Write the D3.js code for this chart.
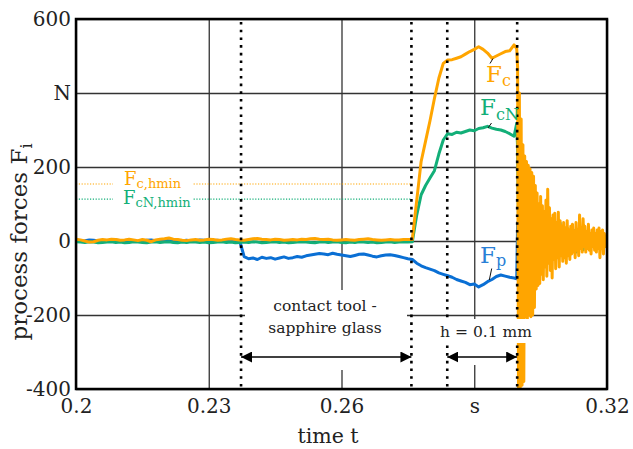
<!DOCTYPE html>
<html><head><meta charset="utf-8">
<script src="https://cdn.jsdelivr.net/npm/d3@7"></script>
<style>body{margin:0;background:#fff} svg{display:block} text{font-family:"DejaVu Serif",serif}</style>
</head><body><svg id="c" width="633" height="449"></svg>
<script>
// ---------- data ----------
const tickX = [0.2, 0.23, 0.26, 0.29, 0.32];
const tickXLabels = ["0.2", "0.23", "0.26", "s", "0.32"];
const tickY = [-400, -200, 0, 200, 400, 600];
const tickYLabels = ["-400", "-200", "0", "200", "N", "600"];

// segment 1: samples from 0.200 s, every 0.001 s (100 samples)
const seg1Start = 0.200, seg1Step = 0.001;
const fc1 = [5,3,0,-3,-2,2,4,3,5,4, 2,3,5,3,1,4,2,-2,3,5, 6,8,5,4,2,1,3,4,2,3, 5,4,2,3,5,6,4,3,
  2,4,6,7,5,4,3,5,4,2, 3,4,3,5,4,6,7,5,4,5, 3,2,3,4,3,2,4,5,6,4, 3,2,3,4,3,3,4,4,
  4,110,215,270,325,385,440,480,489,490, 494,498,505,512,518,525,518,508,494,500, 506,512,514,530];
const fcn1 = [-2,-3,-4,-2,-3,-5,-4,-3,-2,-4, -3,-5,-4,-2,-3,-4,-5,-3,-2,-4, -3,-2,-4,-5,-3,-4,-2,-3,-4,-3, -5,-4,-3,-2,-4,-3,-5,-4,
  -3,-4,-2,-3,-5,-4,-3,-2,-4,-3, -5,-4,-3,-2,-3,-4,-5,-3,-2,-4, -3,-2,-4,-5,-3,-4,-2,-3,-4,-3, -5,-4,-3,-2,-4,-3,-2,-3,
  -2,70,125,150,170,190,235,273,290,288, 294,292,296,300,298,304,306,310,305,302, 300,296,290,283];
const fp1 = [2,0,1,3,2,0,-1,1,2,3, 1,0,2,1,-1,0,2,3,1,0, 2,1,0,-1,1,2,0,1,3,2, 0,1,2,0,-1,1,2,0,
  -42,-48,-46,-50,-44,-47,-45,-49,-46,-43, -47,-45,-42,-44,-40,-38,-36,-34,-35,-37, -33,-36,-38,-40,-42,-39,-36,-35,-38,-41, -43,-40,-38,-37,-39,-42,-45,-48,
  -50,-60,-67,-72,-76,-80,-86,-90,-94,-98, -104,-108,-112,-118,-116,-124,-118,-110,-104,-96, -92,-95,-98,-100];

// last sample before the tool leaves the glass
const tBreak = 0.2996;
const fcBreak = 520, fcnBreak = 318, fpBreak = -102;

// segment 2: vibration after exit, from 0.2998 s
const seg2Start = 0.2998;
const fc2Step = 0.0002;
const fc2 = [470,-400,400,-395,330,-390,260,-380,230,-205, 215,-210,205,-200,195,-205,185,-200,175,-180,
  150,-130,130,-120,100,-115,120,-90,95,-105, 80,-70,110,-95,140,-60,90,-80,60,-100,
  70,-50,75,-75,50,-45,78,-70,55,-40, 40,-55,50,-45,35,-60,55,-40,30,-50,
  40,-35,45,-30,25,-45,50,-25,30,-40, 70,-20,35,-30,60,-15,40,-30,25,-20,
  45,-25,20,-35,30,-15,35,-25,20,-30, 30,-20,35,-45,25,-20,30,-35,20,-15, 10];
const fcn2Step = 0.0004;
const fcn2 = [250,-150,180,-120,150,-130,120,-100,90,-90, 100,-80,60,-78,70,-60,60,-55,50,-45,
  40,-50,45,-40,49,-35,30,-43,35,-30, 30,-25,28,-30,20,-20,22,-24,20,-18,
  18,-20,15,-15,12,-16,14,-12,10,-16, 5];
const fp2Step = 0.0004;
const fp2 = [50,-150,90,-300,60,-80,50,-70,40,-60, 45,-50,35,-45,30,-40,25,-35,30,-30,
  20,-25,25,-20,20,-22,15,-20,18,-15, 12,-14,10,-12,8,-10,10,-8,6,-8,
  8,-6,5,-6,4,-5,6,-4,3,-3, 2];

const eventTimes = [0.2373, 0.2758, 0.2839, 0.2997];
const fcHmin = 154, fcnHmin = 113;

// ---------- helpers ----------
function build(v1, vb, v2, step2) {
  const pts = v1.map((v, i) => [seg1Start + i * seg1Step, v]);
  pts.push([tBreak, vb]);
  v2.forEach((v, i) => pts.push([seg2Start + i * step2, v]));
  return pts;
}
const fcData = build(fc1, fcBreak, fc2, fc2Step);
const fcnData = build(fcn1, fcnBreak, fcn2, fcn2Step);
const fpData = build(fp1, fpBreak, fp2, fp2Step);

const COL_FC = "#FFA500", COL_FCN = "#13AF78", COL_FP = "#0A6FD4";
const L = 76, R = 607, T = 19, B = 389;
const x = d3.scaleLinear().domain([0.2, 0.32]).range([L, R]);
const y = d3.scaleLinear().domain([-400, 600]).range([B, T]);
const svg = d3.select("#c");

const defs = svg.append("defs");
defs.append("clipPath").attr("id", "clip").append("rect")
  .attr("x", L).attr("y", T).attr("width", R - L).attr("height", B - T);
defs.append("marker").attr("id", "ah").attr("viewBox", "0 0 10 10")
  .attr("refX", 10).attr("refY", 5).attr("markerWidth", 11).attr("markerHeight", 11)
  .attr("markerUnits", "userSpaceOnUse").attr("orient", "auto-start-reverse")
  .append("path").attr("d", "M0,0 L10,5 L0,10 Z").attr("fill", "#000");

// grid
svg.append("g").attr("transform", `translate(0,${B})`)
  .call(d3.axisBottom(x).tickValues(tickX).tickSize(-(B - T)).tickFormat(""))
  .call(g => { g.select(".domain").remove(); g.selectAll("line").attr("stroke", "#333").attr("stroke-width", 1.3); });
svg.append("g").attr("transform", `translate(${L},0)`)
  .call(d3.axisLeft(y).tickValues(tickY).tickSize(-(R - L)).tickFormat(""))
  .call(g => { g.select(".domain").remove(); g.selectAll("line").attr("stroke", "#333").attr("stroke-width", 1.3); });

// tick labels
svg.append("g").attr("transform", `translate(0,${B})`)
  .call(d3.axisBottom(x).tickValues(tickX).tickSize(0).tickPadding(10)
    .tickFormat((d, i) => tickXLabels[i]))
  .call(g => { g.select(".domain").remove(); g.selectAll("text").attr("font-size", 20).attr("fill", "#222").attr("font-family", "DejaVu Serif"); });
svg.append("g").attr("transform", `translate(${L},0)`)
  .call(d3.axisLeft(y).tickValues(tickY).tickSize(0).tickPadding(5)
    .tickFormat((d, i) => tickYLabels[i]))
  .call(g => { g.select(".domain").remove(); g.selectAll("text").attr("font-size", 20).attr("fill", "#222").attr("font-family", "DejaVu Serif"); });

// hmin reference lines
[[fcHmin, COL_FC], [fcnHmin, COL_FCN]].forEach(([v, c]) => {
  svg.append("line").attr("x1", L).attr("x2", x(eventTimes[1])).attr("y1", y(v)).attr("y2", y(v))
    .attr("stroke", c).attr("stroke-width", 1.2).attr("stroke-dasharray", "1.2,1.6");
});

// data
const line = d3.line().x(d => x(d[0])).y(d => y(d[1]));
const gd = svg.append("g").attr("clip-path", "url(#clip)");
[[fpData, COL_FP], [fcnData, COL_FCN], [fcData, COL_FC]].forEach(([d, c]) => {
  gd.append("path").datum(d).attr("d", line).attr("fill", "none")
    .attr("stroke", c).attr("stroke-width", 3).attr("stroke-linejoin", "round");
});

// event dotted lines
eventTimes.forEach(t => {
  svg.append("line").attr("x1", x(t)).attr("x2", x(t)).attr("y1", T + 3).attr("y2", B)
    .attr("stroke", "#000").attr("stroke-width", 2.6).attr("stroke-dasharray", "2.6,5.1");
});

// white label boxes
svg.append("rect").attr("x", 113).attr("y", 170).attr("width", 80).attr("height", 40).attr("fill", "#fff");
svg.append("rect").attr("x", 245).attr("y", 290).attr("width", 162).attr("height", 80).attr("fill", "#fff");
svg.append("rect").attr("x", 437).attr("y", 319).attr("width", 97).attr("height", 24).attr("fill", "#fff");
svg.append("rect").attr("x", 456).attr("y", 343).attr("width", 54).attr("height", 22).attr("fill", "#fff");

function subLabel(px, py, main, sub, color, size, subSize, dy) {
  const t = svg.append("text").attr("x", px).attr("y", py).attr("fill", color).attr("font-size", size);
  t.append("tspan").text(main);
  t.append("tspan").attr("dy", dy).attr("font-size", subSize).text(sub);
  return t;
}
subLabel(124, 185, "F", "c,hmin", COL_FC, 18, 13, 3);
subLabel(123, 204, "F", "cN,hmin", COL_FCN, 18, 13, 3);
subLabel(486, 82, "F", "c", COL_FC, 23, 16, 4);
subLabel(480, 115, "F", "cN", COL_FCN, 23, 16, 5);
subLabel(480, 263, "F", "p", "#2A7FD6", 23, 16, 3);

// leader lines
[[490, 63.5, 493, 58.5], [488, 128, 491.5, 123], [489.3, 280, 491.7, 268.5]].forEach(([a, b, c, d]) => {
  svg.append("line").attr("x1", a).attr("y1", b).attr("x2", c).attr("y2", d).attr("stroke", "#111").attr("stroke-width", 1);
});

// annotations
const ann = svg.append("g").attr("font-size", 15.5).attr("fill", "#222").attr("text-anchor", "middle");
ann.append("text").attr("x", 325).attr("y", 311).text("contact tool -");
ann.append("text").attr("x", 325).attr("y", 332.5).text("sapphire glass");
ann.append("text").attr("x", 486).attr("y", 336.5).text("h = 0.1 mm");

// arrows
[[eventTimes[0], eventTimes[1]], [eventTimes[2], eventTimes[3]]].forEach(([a, b]) => {
  svg.append("line").attr("x1", x(a)).attr("x2", x(b)).attr("y1", 357).attr("y2", 357)
    .attr("stroke", "#000").attr("stroke-width", 1.5)
    .attr("marker-start", "url(#ah)").attr("marker-end", "url(#ah)");
});

// axis titles
svg.append("text").attr("x", 328).attr("y", 443).attr("text-anchor", "middle")
  .attr("font-size", 20.5).attr("fill", "#222").text("time t");
const yt = svg.append("text").attr("transform", "translate(27,242) rotate(-90)")
  .attr("text-anchor", "middle").attr("font-size", 23).attr("fill", "#222");
yt.append("tspan").text("process forces F");
yt.append("tspan").attr("dy", 5).attr("font-size", 16).text("i");

// frame
svg.append("rect").attr("x", L).attr("y", T).attr("width", R - L).attr("height", B - T)
  .attr("fill", "none").attr("stroke", "#000").attr("stroke-width", 2.5);
</script></body></html>
